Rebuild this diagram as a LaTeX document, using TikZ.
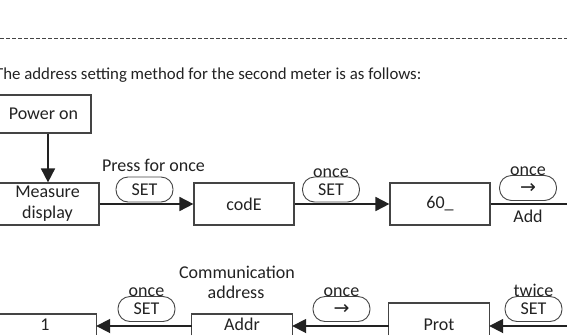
\documentclass[tikz,border=0pt]{standalone}
\usepackage{fontspec}
\setmainfont{Carlito}
\newfontfamily\dvsans{DejaVu Sans}
\usetikzlibrary{arrows.meta}
\definecolor{ink}{HTML}{222222}
\definecolor{edge}{HTML}{444444}
\tikzset{
  box/.style={draw=edge, line width=1.2pt, rectangle, inner sep=0pt, text=ink,
    font=\fontsize{18}{22}\selectfont, align=center},
  openbox/.style={rectangle, inner sep=0pt, text=ink,
    font=\fontsize{18}{22}\selectfont, align=center},
  openedge/.style={draw=edge, line width=1.2pt},
  pill/.style={draw=edge, line width=0.9pt, rounded corners=12pt, minimum width=57pt,
    minimum height=25pt, inner sep=0pt, text=ink, font=\fontsize{18}{22}\selectfont},
  lbl/.style={text=ink, inner sep=0pt, font=\fontsize{18}{22}\selectfont, align=center},
  flow/.style={draw=ink, line width=1.8pt, -{Triangle[length=14pt,width=14pt]}},
  plain/.style={draw=ink, line width=1.8pt}
}
\begin{document}
\begin{tikzpicture}[x=1pt,y=-1pt]
\useasboundingbox (0,0) rectangle (567,335);
\clip (0,0) rectangle (567,335);
% header
\draw[edge, line width=0.8pt, dash pattern=on 4pt off 2pt] (0,38) -- (567,38);
\node[lbl, anchor=base west, font=\fontsize{16.8}{20}\selectfont] (title) at (-5,79) {The address setting method for the second meter is as follows:};
% row 1
\node[box, minimum width=95pt, minimum height=38pt] (power) at (43.5,114) {Power on};
\node[box, minimum width=103pt, minimum height=42pt] (measure) at (47.5,204) {Measure\\[-1pt]display};
\node[box, minimum width=100pt, minimum height=42pt] (code) at (244,204) {codE};
\node[box, minimum width=100pt, minimum height=42pt] (sixty) at (440,204) {60\_};
\coordinate (r1end) at (572,204);
\draw[flow] (power.south -| 48,0) -- (measure.north -| 48,0);
\draw[flow] (measure.east) -- (code.west);
\draw[flow] (code.east) -- (sixty.west);
\draw[plain] (sixty.east) -- (r1end);
\node[lbl] (press) at (153.5,165) {Press for once};
\node[pill] (p1) at (144.5,189.5) {SET};
\node[pill] (p2) at (331,189.5) {SET};
\node[lbl, anchor=base] (o2) at (331,177) {once};
\node[pill] (p3) at (528,188) {\dvsans\fontsize{19}{20}\selectfont →};
\node[lbl, anchor=base] (o3) at (528,175.5) {once};
\node[lbl] (add) at (528,216) {Add};
% row 2 (boxes run past the bottom edge)
\node[openbox, minimum width=102pt, minimum height=21pt, anchor=north] (one) at (45,314) {1};
\node[openbox, minimum width=100pt, minimum height=21pt, anchor=north] (addr) at (242,314) {Addr};
\node[openbox, minimum width=100pt, minimum height=20pt] (prot) at (439,325) {Prot};
\draw[openedge] (one.south west) -- (one.north west) -- (one.north east) -- (one.south east);
\draw[openedge] (addr.south west) -- (addr.north west) -- (addr.north east) -- (addr.south east);
\draw[openedge] (prot.south west) -- (prot.west |- 0,303) -- (prot.east |- 0,303) -- (prot.south east);
\coordinate (r2start) at (572,326);
\draw[flow] (r2start) -- (r2start -| prot.east);
\draw[flow] (prot.west |- 0,326) -- (addr.east |- 0,326);
\draw[flow] (addr.west |- 0,326) -- (one.east |- 0,326);
\node[lbl] (comm) at (237,272) {Communication};
\node[lbl] (addrl) at (236,292.5) {address};
\node[pill] (p4) at (146.5,309) {SET};
\node[lbl, anchor=base] (o4) at (146.5,296.5) {once};
\node[pill] (p5) at (341.5,309) {\dvsans\fontsize{19}{20}\selectfont →};
\node[lbl, anchor=base] (o5) at (341.5,296.5) {once};
\node[pill] (p6) at (533.5,309) {SET};
\node[lbl, anchor=base] (o6) at (533.5,296.5) {twice};
\end{tikzpicture}
\end{document}
